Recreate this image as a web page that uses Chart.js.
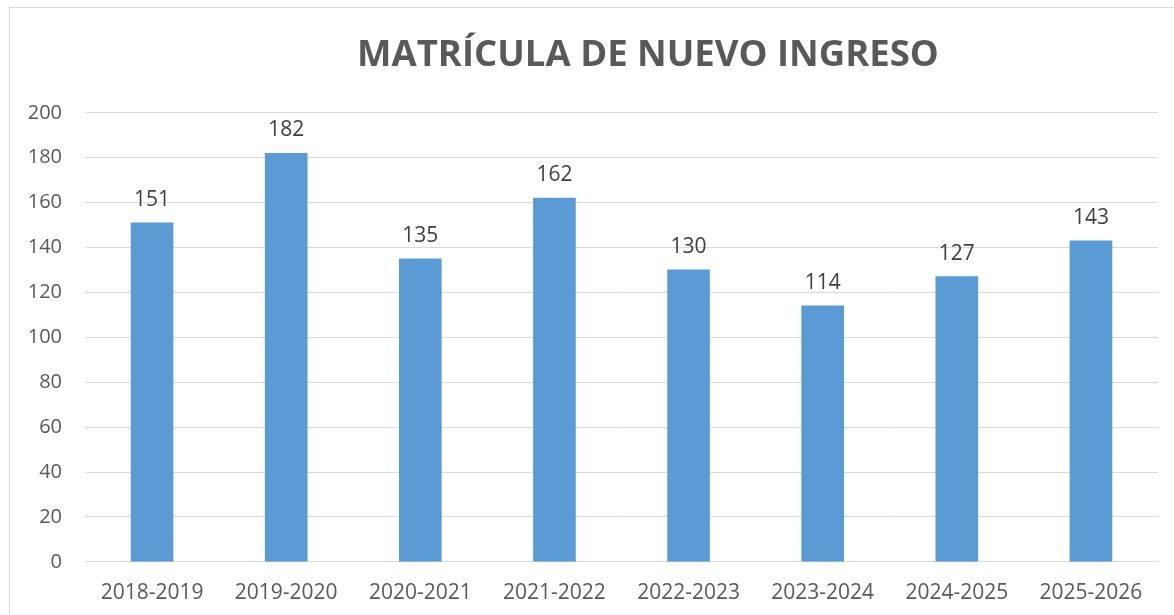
<!DOCTYPE html>
<html>
<head>
<meta charset="utf-8">
<script src="https://cdn.jsdelivr.net/npm/chart.js@4"></script>
<style>
  html, body { margin: 0; padding: 0; background: #fff; overflow: hidden; }
  #wrap {
    position: absolute; left: 9px; top: 7px;
    width: 1276px; height: 620px;
    border: 1px solid #d9d9d9;
  }
</style>
</head>
<body>
<div id="wrap"><canvas id="enrolChart"></canvas></div>
<script>
const periods = ['2018-2019', '2019-2020', '2020-2021', '2021-2022', '2022-2023', '2023-2024', '2024-2025', '2025-2026'];
const newStudents = [151, 182, 135, 162, 130, 114, 127, 143];
const yTicks = [0, 20, 40, 60, 80, 100, 120, 140, 160, 180, 200];

const FONT = '"Open Sans", "Noto Sans", sans-serif';

// value labels above each bar
const barLabels = {
    id: 'barLabels',
    afterDatasetsDraw(chart) {
        const ctx = chart.ctx;
        const meta = chart.getDatasetMeta(0);
        ctx.save();
        ctx.font = '21px ' + FONT;
        ctx.fillStyle = '#404040';
        ctx.textAlign = 'center';
        ctx.textBaseline = 'alphabetic';
        meta.data.forEach((bar, i) => {
            ctx.fillText(String(newStudents[i]), bar.x, bar.y - 17);
        });
        ctx.restore();
    }
};

const ctx = document.getElementById('enrolChart').getContext('2d');
const enrolChart = new Chart(ctx, {
    type: 'bar',
    data: {
        labels: periods,
        datasets: [{
            label: 'Matrícula',
            data: newStudents,
            backgroundColor: '#5b9bd5',
            borderWidth: 0,
            barThickness: 42
        }]
    },
    options: {
        responsive: true,
        maintainAspectRatio: false,
        animation: false,
        layout: { padding: { left: 0, right: 0, top: 0, bottom: 3 } },
        plugins: {
            legend: { display: false },
            tooltip: { enabled: false },
            title: {
                display: true,
                text: 'MATRÍCULA DE NUEVO INGRESO',
                color: '#595959',
                font: { family: FONT, size: 36.5, weight: 'bold' },
                padding: { top: 26, bottom: 35 }
            }
        },
        scales: {
            x: {
                grid: { display: false, drawTicks: false },
                border: { display: true, color: '#d9d9d9', width: 1 },
                ticks: { color: '#595959', font: { family: FONT, size: 21 }, padding: 19, maxRotation: 0 }
            },
            y: {
                min: 0,
                max: 200,
                afterFit: s => { s.width = 75; },
                afterBuildTicks: s => { s.ticks = yTicks.map(v => ({ value: v })); },
                grid: { color: '#d9d9d9', lineWidth: 1, drawTicks: false },
                border: { display: false },
                ticks: { color: '#595959', font: { family: FONT, size: 20 }, padding: 23 }
            },
            // empty right-hand strip, keeps the plot short of the chart's right edge
            spacer: {
                type: 'linear',
                position: 'right',
                afterFit: s => { s.width = 128; },
                grid: { display: false, drawTicks: false },
                border: { display: false },
                ticks: { display: false }
            }
        }
    },
    plugins: [barLabels]
});
</script>
</body>
</html>
